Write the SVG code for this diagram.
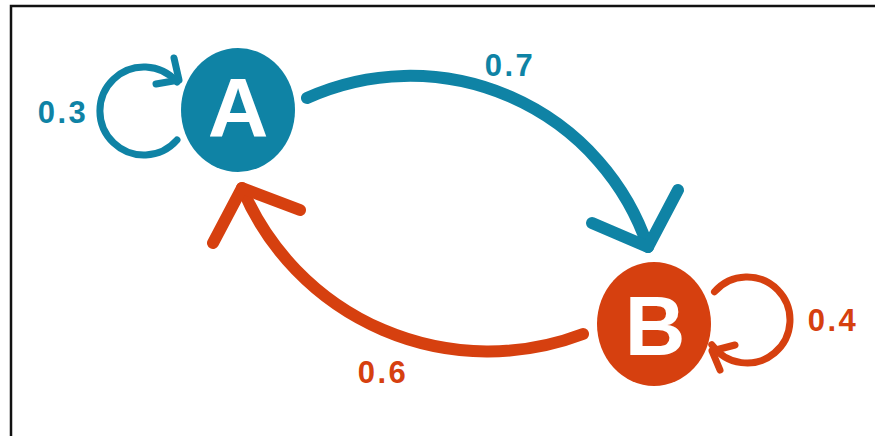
<svg xmlns="http://www.w3.org/2000/svg" width="875" height="436" viewBox="0 0 875 436">
<style>
.blue{stroke:#0F83A5}
.orange{stroke:#D6400F}
.edge{fill:none;stroke-linecap:round;stroke-linejoin:round}
.main{stroke-width:12}
.loop{stroke-width:7}
.lbl{font-family:"Liberation Sans",Arial,sans-serif;font-weight:bold;font-size:31px;letter-spacing:2.5px;text-anchor:middle}
.nodelbl{font-family:"Liberation Sans",Arial,sans-serif;font-weight:bold;font-size:84px;fill:#fff;text-anchor:middle}
</style>
<rect width="875" height="436" fill="#fff"/>
<path d="M11,436 V6 H875" fill="none" stroke="#111" stroke-width="2.5"/>
<g id="connectors">
  <g id="loopA">
    <path class="edge loop blue" d="M177,140 A44,44 0 1 1 177,82"/>
    <path class="edge loop blue" d="M174,58 L179,80 L156,84"/>
    <text class="lbl" x="63" y="123" fill="#0F83A5">0.3</text>
  </g>
  <g id="AtoB">
    <path class="edge main blue" d="M307,98 A251,251 0 0 1 648,247"/>
    <path class="edge main blue" d="M592,223 L648,247 L678,190"/>
    <text class="lbl" x="510" y="76" fill="#0F83A5">0.7</text>
  </g>
  <g id="BtoA">
    <path class="edge main orange" d="M583,334 A267,267 0 0 1 242,188"/>
    <path class="edge main orange" d="M213,243 L242,188 L300,210"/>
    <text class="lbl" x="383" y="383" fill="#D6400F">0.6</text>
  </g>
  <g id="loopB">
    <path class="edge loop orange" d="M714.5,291.8 A43,43 0 1 1 711.8,344.7"/>
    <path class="edge loop orange" d="M735,345 L712,351 L720,370"/>
    <text class="lbl" x="833" y="331" fill="#D6400F">0.4</text>
  </g>
</g>
<g id="nodeA">
  <ellipse cx="238" cy="110" rx="57" ry="62" fill="#0F83A5"/>
  <text class="nodelbl" x="238" y="137">A</text>
</g>
<g id="nodeB">
  <ellipse cx="654" cy="324" rx="57" ry="62" fill="#D6400F"/>
  <text class="nodelbl" x="655" y="355">B</text>
</g>
</svg>
